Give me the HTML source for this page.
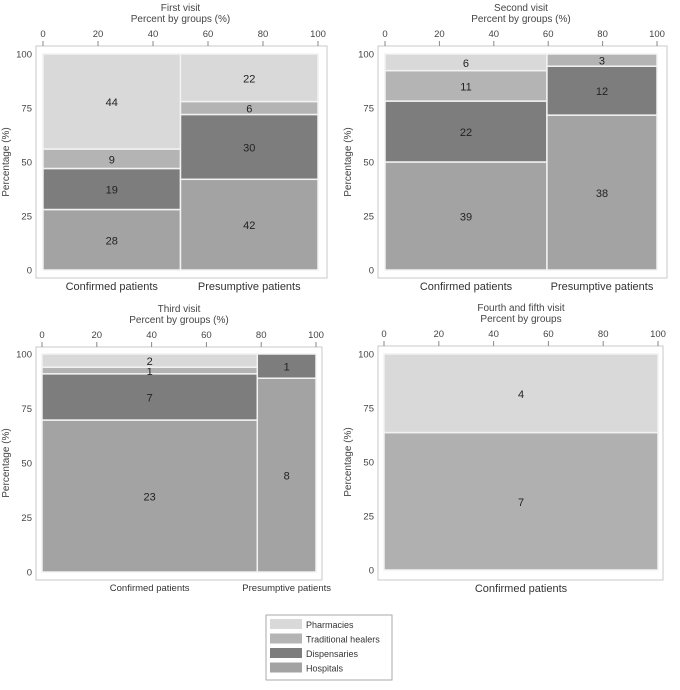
<!DOCTYPE html>
<html><head><meta charset="utf-8"><style>
body{margin:0;background:#fff;width:680px;height:685px;overflow:hidden;font-family:"Liberation Sans",sans-serif}
svg text{font-family:"Liberation Sans",sans-serif}
</style></head><body>
<svg id="c" width="680" height="685" xmlns="http://www.w3.org/2000/svg"></svg>
<script>
const categories=["Hospitals","Dispensaries","Traditional healers","Pharmacies"];
const colors=["#a3a3a3","#7d7d7d","#b4b4b4","#d9d9d9"];
const groupNames1=["Confirmed patients","Presumptive patients"];
const v1Confirmed=[28,19,9,44];
const v1Presumptive=[42,30,6,22];
const v2Confirmed=[39,22,11,6];
const v2Presumptive=[38,12,3,0];
const v3Confirmed=[23,7,1,2];
const v3Presumptive=[8,1,0,0];
const v4Confirmed=[7,0,0,4];
const xTicks=[0,20,40,60,80,100];
const yTicks=[0,25,50,75,100];
const panels=[
 {title:"First visit",sub:"Percent by groups (%)",groups:[v1Confirmed,v1Presumptive],names:groupNames1,fx:36,fy:46,fw:291,fh:232,x0:43,x1:318,y0:270,y1:54,gs:11},
 {title:"Second visit",sub:"Percent by groups (%)",groups:[v2Confirmed,v2Presumptive],names:groupNames1,fx:378,fy:46,fw:289,fh:232,x0:385,x1:657,y0:270,y1:54,gs:11},
 {title:"Third visit",sub:"Percent by groups (%)",groups:[v3Confirmed,v3Presumptive],names:groupNames1,fx:36,fy:347,fw:286,fh:233,x0:42,x1:316,y0:572,y1:354,gs:9.5},
 {title:"Fourth and fifth visit",sub:"Percent by groups",groups:[v4Confirmed],names:["Confirmed patients"],fx:378,fy:346,fw:285,fh:234,x0:384,x1:658,y0:570,y1:354,hosp:"#b0b0b0",gs:11}
];
const svg=document.getElementById('c');
const NS="http://www.w3.org/2000/svg";
function mk(tag,attrs,parent){const e=document.createElementNS(NS,tag);for(const k in attrs)e.setAttribute(k,attrs[k]);(parent||svg).appendChild(e);return e;}
function txt(s,x,y,size,fill,anchor,parent){const t=mk('text',{x:x,y:y,'font-size':size,fill:fill,'text-anchor':anchor||'middle'},parent);t.textContent=s;return t;}
panels.forEach((p,pi)=>{
 const g=mk('g',{});
 
 
 const sx=v=>p.x0+(p.x1-p.x0)*v/100;
 const sy=v=>p.y0+(p.y1-p.y0)*v/100;
 const fr=mk('rect',{x:p.fx,y:p.fy,width:p.fw,height:p.fh,fill:'#fff',stroke:'#c8c8c8','stroke-width':1},g);
 
 
 const tt=txt(p.title,(p.x0+p.x1)/2,p.fy-35,10,'#444','middle',g);
 
 
 const st=txt(p.sub,(p.x0+p.x1)/2,p.fy-24,10,'#444','middle',g);
 
 
 xTicks.forEach(v=>{
  const l=txt(String(v),sx(v),p.fy-9,9.5,'#444','middle',g);
  
  
  mk('line',{x1:sx(v),x2:sx(v),y1:p.fy-5,y2:p.fy,stroke:'#888'},g);
 });
 yTicks.forEach(v=>{
  const l=txt(String(v),p.fx-4,sy(v)+3.5,9.5,'#444','end',g);
  
  
 });
 const yt=txt('Percentage (%)',0,0,10,'#444','middle',g);
 yt.setAttribute('transform','translate('+(p.fx-27)+','+((p.y0+p.y1)/2)+') rotate(-90)');
 
 
 const totals=p.groups.map(a=>a.reduce((s,v)=>s+v,0));
 const grand=totals.reduce((s,v)=>s+v,0);
 let cx=0;
 p.groups.forEach((arr,gi)=>{
  const w=totals[gi]/grand*100;
  let cy=0;
  arr.forEach((v,ci)=>{
   if(!v)return;
   const h=v/totals[gi]*100;
   let col=colors[ci]; if(ci===0&&p.hosp)col=p.hosp;
   const r=mk('rect',{x:sx(cx),y:sy(cy+h),width:sx(cx+w)-sx(cx),height:sy(cy)-sy(cy+h),fill:col,stroke:'#f2f2f2','stroke-width':1.5},g);
   
   
   const lb=txt(String(v),sx(cx+w/2),(sy(cy)+sy(cy+h))/2+4.5,11,'#222','middle',g);
   
   
   cy+=h;
  });
  const gl=txt(p.names[gi],sx(cx+w/2),p.fy+p.fh+(p.gs>10?12:11),p.gs,'#333','middle',g);
  
  
  cx+=w;
 });
});
const lg=mk('g',{});


mk('rect',{x:266,y:615,width:126,height:65,fill:'#fff',stroke:'#aaa'},lg);
const legOrder=[3,2,1,0];
legOrder.forEach((ci,i)=>{
 const y=619+i*14.5;
 const sw=mk('rect',{x:270,y:y,width:32,height:10,fill:colors[ci]},lg);
 
 
 const t=txt(categories[ci],306,y+9,9,'#333','start',lg);
 
 
});
</script>
</body></html>
